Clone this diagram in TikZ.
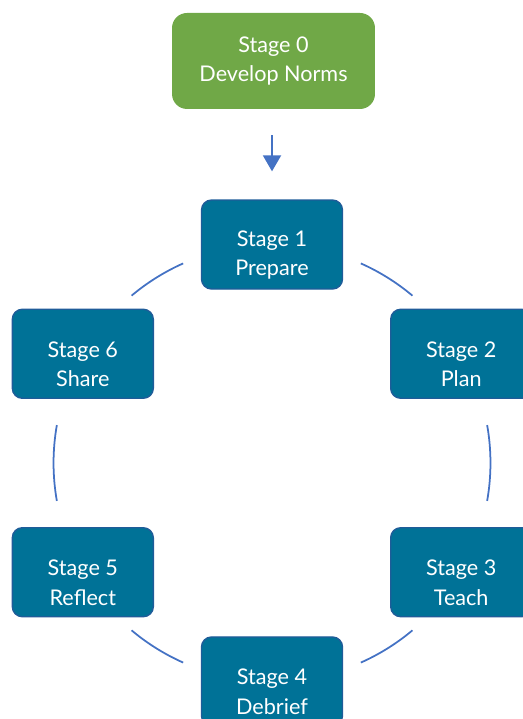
\documentclass[tikz,border=0pt]{standalone}
\usepackage{fontspec}
\setmainfont{Lato}
\usetikzlibrary{arrows.meta, calc}
\definecolor{norms}{HTML}{70A847}
\definecolor{cycle}{HTML}{007297}
\definecolor{rim}{HTML}{1F5C99}
\definecolor{link}{HTML}{4472C4}

\begin{document}
\begin{tikzpicture}[x=0.02cm, y=0.02cm, font=\fontsize{12.3}{16.8}\selectfont,
    >={Triangle[width=3.6mm, length=3.2mm]},
    start/.style={fill=norms, rounded corners=3mm, minimum width=4.06cm, minimum height=1.92cm,
      text=white, align=center},
    stage/.style={draw=rim, line width=0.8pt, fill=cycle, rounded corners=2mm,
      minimum width=2.82cm, minimum height=1.78cm},
    stagetxt/.style={text=white, align=center, inner sep=0pt},
    ring/.style={link, line width=1pt}]

  \useasboundingbox (0,0) rectangle (523,719);
  \clip (0,0) rectangle (523,719);

  % centre of the cycle
  \coordinate (c) at (272,256);

  \node[start] (s0) at (273.5,658) {Stage 0\\Develop Norms};

  % the six stages round the circle
  \foreach \i/\ang/\what in {1/90/Prepare, 2/30/Plan, 3/-30/Teach, 4/-90/Debrief, 5/-150/Reflect, 6/150/Share} {
    \node[stage] (s\i) at ([shift={(\ang:4.37cm)}]c) {};
    \node[stagetxt] (t\i) at ([yshift=-6pt]s\i.center) {Stage \i\\\what};
  }

  \draw[->, link, line width=1.1pt, shorten <=5.2mm, shorten >=5.6mm] (s1.north |- s0.south) -- (s1.north);

  % arcs between the stages
  \foreach \a/\b in {-10/10, 50/66, 114/130, 170/190, 230/246, 294/310}
    \draw[ring] ([shift={(\a:4.37cm)}]c) arc[start angle=\a, end angle=\b, radius=4.37cm];
\end{tikzpicture}
\end{document}
